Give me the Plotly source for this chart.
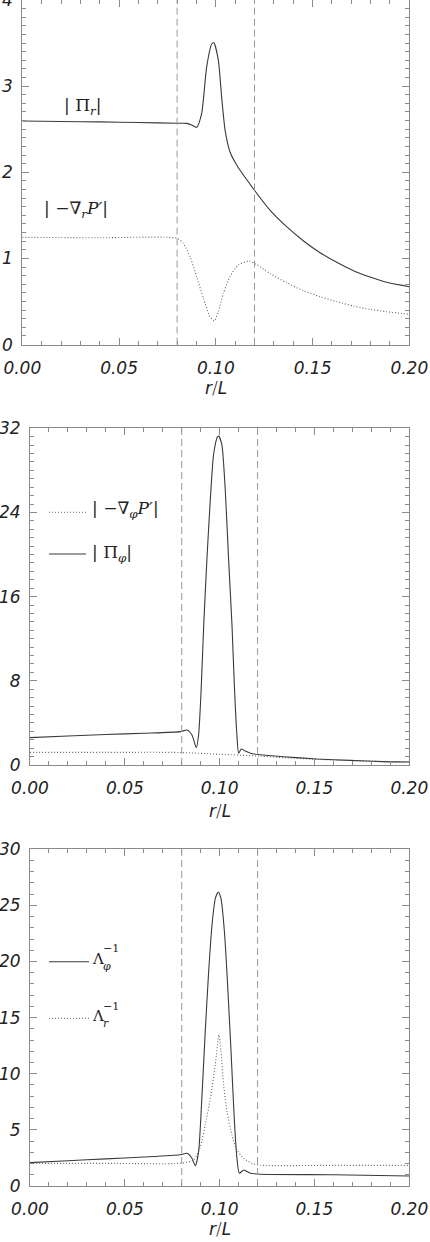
import plotly.graph_objects as go

W, H = 430, 1242

# ---------------- data ----------------
# Panel 1 : |Pi_r| (solid) and |-grad_r P'| (dotted)
r_pi_r = [0.000, 0.020, 0.040, 0.060, 0.080, 0.085, 0.0875, 0.0901, 0.0927, 0.0953,
          0.0979, 0.0990, 0.1013, 0.1030, 0.1048, 0.1073, 0.1108, 0.1199, 0.1280,
          0.1366, 0.1452, 0.1539, 0.1625, 0.1711, 0.1797, 0.1883, 0.2000]
pi_r = [2.595, 2.590, 2.585, 2.578, 2.569, 2.568, 2.550, 2.522, 2.685, 3.226,
        3.489, 3.505, 3.303, 2.878, 2.490, 2.239, 2.085, 1.795, 1.562,
        1.369, 1.206, 1.067, 0.955, 0.858, 0.785, 0.723, 0.672]

r_gradp_r = [0.000, 0.040, 0.080, 0.0832, 0.0867, 0.0901, 0.0936, 0.0970, 0.0992,
             0.1013, 0.1039, 0.1073, 0.1116, 0.1172, 0.1211, 0.1280, 0.1366, 0.1452,
             0.1539, 0.1625, 0.1711, 0.1797, 0.1883, 0.2000]
gradp_r = [1.245, 1.240, 1.234, 1.176, 1.020, 0.788, 0.537, 0.324, 0.274,
           0.382, 0.595, 0.788, 0.924, 0.970, 0.930, 0.827, 0.718, 0.626,
           0.556, 0.498, 0.448, 0.409, 0.382, 0.352]

# Panel 2 : |-grad_phi P'| (dotted) and |Pi_phi| (solid)
r_pi_phi = [0.000, 0.020, 0.040, 0.060, 0.0793, 0.0828, 0.0854, 0.0877, 0.0889,
            0.0902, 0.0916, 0.0933, 0.0951, 0.0968, 0.0989, 0.0996, 0.1012, 0.1030,
            0.1047, 0.1065, 0.1079, 0.1091, 0.1100, 0.1114, 0.1135, 0.1162, 0.1214,
            0.1336, 0.1512, 0.1687, 0.1863, 0.2000]
pi_phi = [2.60, 2.75, 2.90, 3.02, 3.17, 3.32, 2.85, 1.65, 2.85,
          6.97, 13.3, 19.6, 25.3, 29.5, 31.2, 31.25, 30.4, 26.0,
          19.6, 13.3, 6.97, 2.85, 1.11, 1.52, 1.33, 1.11, 0.97,
          0.79, 0.57, 0.44, 0.32, 0.29]

r_gradp_phi = [0.000, 0.040, 0.0793, 0.1000, 0.1214, 0.1336, 0.1512, 0.1687, 0.1863, 0.2000]
gradp_phi = [1.20, 1.20, 1.19, 1.02, 0.84, 0.70, 0.54, 0.43, 0.32, 0.28]

# Panel 3 : Lambda_phi^-1 (solid) and Lambda_r^-1 (dotted)
r_lam_phi = [0.000, 0.020, 0.040, 0.060, 0.0793, 0.0828, 0.0854, 0.0872, 0.0889,
             0.0907, 0.0924, 0.0942, 0.0960, 0.0977, 0.0993, 0.1007, 0.1025, 0.1042,
             0.1060, 0.1077, 0.1091, 0.1104, 0.1127, 0.1162, 0.1214, 0.1600, 0.2000]
lam_phi = [2.08, 2.25, 2.42, 2.58, 2.78, 2.91, 2.47, 1.81, 3.06,
           8.11, 13.75, 19.1, 23.3, 25.6, 26.2, 25.6, 22.7, 17.9,
           12.0, 6.03, 2.47, 1.13, 1.43, 1.13, 1.05, 1.00, 0.89]

r_lam_r = [0.000, 0.040, 0.0793, 0.0863, 0.0898, 0.0924, 0.0951, 0.0977, 0.0996,
           0.1007, 0.1021, 0.1039, 0.1065, 0.1091, 0.1127, 0.1170, 0.1214, 0.1600, 0.2000]
lam_r = [2.02, 2.02, 2.03, 2.32, 3.50, 5.44, 7.81, 10.8, 13.46,
         12.0, 9.0, 6.6, 4.55, 3.2, 2.47, 2.02, 1.85, 1.84, 1.84]

x_ticks = [0.0, 0.05, 0.10, 0.15, 0.20]
x_ticklabels = ["0.00", "0.05", "0.10", "0.15", "0.20"]
y1_ticks = [0, 1, 2, 3, 4]
y2_ticks = [0, 8, 16, 24, 32]
y3_ticks = [0, 5, 10, 15, 20, 25, 30]
boundaries = [0.08, 0.12]

# ---------------- styling ----------------
FR = "#8a8a8a"
CURVE = "#3a3a3a"
DOT = "#666666"
DOTDASH = "1px,2px"
TXT = "#222222"
TICKFONT = dict(family="DejaVu Sans", size=17, color=TXT, style="italic", weight=200)
MATHFONT = dict(family="DejaVu Serif", size=17, color=TXT)


def px(x):
    return x / W


def py(y):
    return 1 - y / H


panels = [
    # (x0, x1, top, bottom, y-range, y ticks, minor dtick)
    (22.3, 409.3, 0.0, 344.6, [0, 4], y1_ticks, 0.1),
    (30.0, 409.3, 428.3, 765.0, [0, 32], y2_ticks, 0.8),
    (30.0, 409.3, 849.3, 1186.0, [0, 30], y3_ticks, 1.0),
]

fig = go.Figure()

series = [
    (r_pi_r, pi_r, "solid", 1),
    (r_gradp_r, gradp_r, "dot", 1),
    (r_gradp_phi, gradp_phi, "dot", 2),
    (r_pi_phi, pi_phi, "solid", 2),
    (r_lam_r, lam_r, "dot", 3),
    (r_lam_phi, lam_phi, "solid", 3),
]
for xs, ys, dash, k in series:
    sfx = "" if k == 1 else str(k)
    fig.add_trace(go.Scatter(
        x=xs, y=ys, mode="lines", xaxis="x" + sfx, yaxis="y" + sfx,
        line=dict(color=CURVE if dash == "solid" else DOT, width=1.1,
                  dash="solid" if dash == "solid" else DOTDASH,
                  shape="spline", smoothing=0.6),
        showlegend=False, hoverinfo="skip"))

layout = dict(width=W, height=H, margin=dict(l=0, r=0, t=0, b=0),
              paper_bgcolor="white", plot_bgcolor="white", showlegend=False)

shapes = []
annotations = []
for i, (x0, x1, top, bot, yr, yt, ymin) in enumerate(panels):
    k = i + 1
    sfx = "" if k == 1 else str(k)
    layout["xaxis" + sfx] = dict(
        domain=[px(x0), px(x1)], anchor="y" + sfx, range=[0, 0.2],
        tickvals=x_ticks, ticktext=x_ticklabels, ticks="inside", ticklen=7,
        tickcolor=FR, tickwidth=1,
        minor=dict(dtick=0.01, tick0=0, ticks="inside", ticklen=4, tickcolor=FR, tickwidth=1),
        showline=True, linecolor=FR, linewidth=1, mirror="allticks",
        showgrid=False, zeroline=False, tickfont=TICKFONT, automargin=False,
        ticklabelstandoff=8, ticklabeloverflow="allow", fixedrange=True)
    layout["yaxis" + sfx] = dict(
        domain=[py(bot), py(top)], anchor="x" + sfx, range=yr,
        tickvals=yt, ticktext=[str(v) for v in yt], ticks="inside", ticklen=7,
        tickcolor=FR, tickwidth=1,
        minor=dict(dtick=ymin, tick0=0, ticks="inside", ticklen=4, tickcolor=FR, tickwidth=1),
        showline=True, linecolor=FR, linewidth=1, mirror="allticks",
        showgrid=False, zeroline=False, tickfont=TICKFONT, automargin=False,
        ticklabelstandoff=5, ticklabeloverflow="allow", fixedrange=True)
    for b in boundaries:
        shapes.append(dict(type="line", xref="x" + sfx, yref="y" + sfx + " domain",
                           x0=b, x1=b, y0=0, y1=1,
                           line=dict(color="#999999", width=1, dash="7px,4px")))

# axis titles r/L
for cx, cy in [(216, 388), (220, 811), (220, 1229)]:
    annotations.append(dict(x=px(cx), y=py(cy), xref="paper", yref="paper",
                            text="<i>r</i>/<i>L</i>", showarrow=False,
                            xanchor="center", yanchor="middle",
                            font=dict(family="DejaVu Sans", size=17, color=TXT, weight=200)))

# panel 1 labels
annotations.append(dict(x=px(62), y=py(107), xref="paper", yref="paper",
                        text="| Π<sub><i>r</i></sub>|", showarrow=False,
                        xanchor="left", yanchor="middle", font=MATHFONT))
annotations.append(dict(x=px(42), y=py(210), xref="paper", yref="paper",
                        text="| −∇<sub><i>r</i></sub><i>P′</i>|", showarrow=False,
                        xanchor="left", yanchor="middle", font=MATHFONT))

# panel 2 legend
shapes.append(dict(type="line", xref="paper", yref="paper", x0=px(49), x1=px(86),
                   y0=py(512.3), y1=py(512.3), line=dict(color=DOT, width=1, dash=DOTDASH)))
shapes.append(dict(type="line", xref="paper", yref="paper", x0=px(49), x1=px(86),
                   y0=py(554), y1=py(554), line=dict(color=CURVE, width=1.1)))
annotations.append(dict(x=px(90), y=py(509), xref="paper", yref="paper",
                        text="| −∇<sub><i>φ</i></sub><i>P′</i>|", showarrow=False,
                        xanchor="left", yanchor="middle", font=MATHFONT))
annotations.append(dict(x=px(90), y=py(553), xref="paper", yref="paper",
                        text="| Π<sub><i>φ</i></sub>|", showarrow=False,
                        xanchor="left", yanchor="middle", font=MATHFONT))

# panel 3 legend
shapes.append(dict(type="line", xref="paper", yref="paper", x0=px(49), x1=px(89),
                   y0=py(961.7), y1=py(961.7), line=dict(color=CURVE, width=1.1)))
shapes.append(dict(type="line", xref="paper", yref="paper", x0=px(49), x1=px(89),
                   y0=py(1018.3), y1=py(1018.3), line=dict(color=DOT, width=1, dash=DOTDASH)))
for ly, sub in [(959, "<i>φ</i>"), (1016, "<i>r</i>")]:
    annotations.append(dict(x=px(89.5), y=py(ly), xref="paper", yref="paper",
                            text="Λ", showarrow=False, xanchor="left", yanchor="middle",
                            font=dict(family="DejaVu Serif", size=15, color=TXT)))
    annotations.append(dict(x=px(101), y=py(ly - 10), xref="paper", yref="paper",
                            text="−1", showarrow=False, xanchor="left", yanchor="middle",
                            font=dict(family="DejaVu Serif", size=11, color=TXT)))
    annotations.append(dict(x=px(101), y=py(ly + 7), xref="paper", yref="paper",
                            text=sub, showarrow=False, xanchor="left", yanchor="middle",
                            font=dict(family="DejaVu Serif", size=11, color=TXT)))

layout["shapes"] = shapes
layout["annotations"] = annotations
fig.update_layout(**layout)
fig.write_html(
    "out.html",
    config={"displayModeBar": False, "staticPlot": True},
    post_script="document.body.style.margin='0';document.body.style.padding='0';"
                "document.documentElement.style.overflow='hidden';",
)
